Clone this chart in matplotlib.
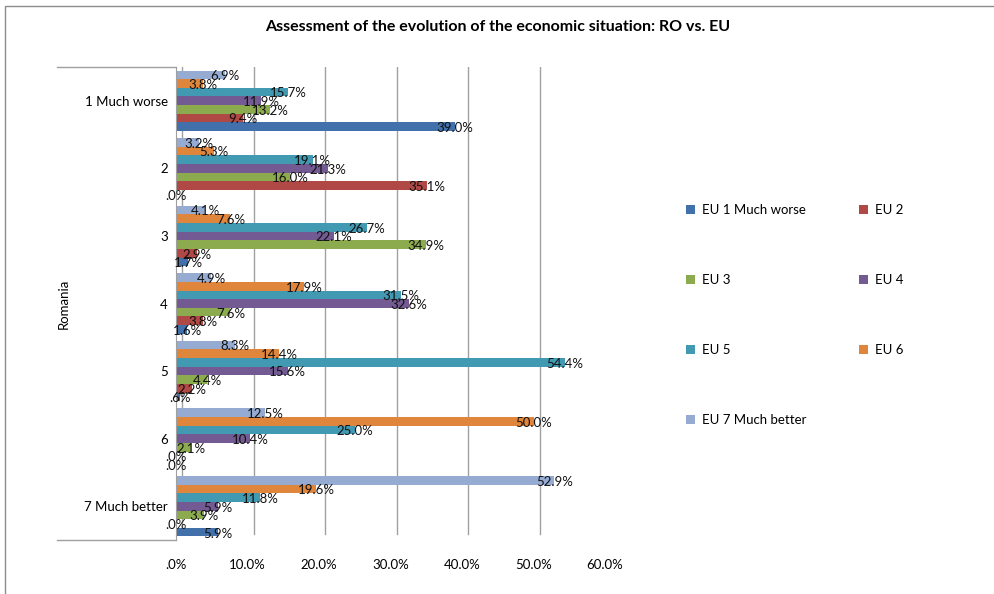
import matplotlib.pyplot as plt
import matplotlib.transforms as mtransforms
from matplotlib.lines import Line2D
from matplotlib.patches import Rectangle, Patch
import numpy as np

plt.rcParams['font.family'] = ['Lato', 'DejaVu Sans']

categories = ["1 Much worse", "2", "3", "4", "5", "6", "7 Much better"]
series_names = ["EU 1 Much worse", "EU 2", "EU 3", "EU 4", "EU 5", "EU 6",
                "EU 7 Much better"]
colors = ["#4170aa", "#b04845", "#8bab4e", "#735a93", "#4299b2", "#e0853c",
          "#95abd2"]

# one list per series, values for categories 1..7 (percent)
eu1 = [39.0, 0.0, 1.7, 1.6, 0.6, 0.0, 5.9]
eu2 = [9.4, 35.1, 2.9, 3.8, 2.2, 0.0, 0.0]
eu3 = [13.2, 16.0, 34.9, 7.6, 4.4, 2.1, 3.9]
eu4 = [11.9, 21.3, 22.1, 32.6, 15.6, 10.4, 5.9]
eu5 = [15.7, 19.1, 26.7, 31.5, 54.4, 25.0, 11.8]
eu6 = [3.8, 5.3, 7.6, 17.9, 14.4, 50.0, 19.6]
eu7 = [6.9, 3.2, 4.1, 4.9, 8.3, 12.5, 52.9]
series = [eu1, eu2, eu3, eu4, eu5, eu6, eu7]

x_ticks = [0, 10, 20, 30, 40, 50, 60]
x_ticklabels = [".0%", "10.0%", "20.0%", "30.0%", "40.0%", "50.0%", "60.0%"]


def pct(v):
    s = "%.1f%%" % v
    return s[1:] if s.startswith("0") else s


fig = plt.figure(figsize=(9.94, 5.94), dpi=100)
ax = fig.add_axes([176 / 994, 54 / 594, 429 / 994, 473 / 594])

y = np.arange(len(categories))
h = 0.128
for j, vals in enumerate(series):
    pos = y + (3 - j) * h
    ax.barh(pos, vals, height=h, color=colors[j], edgecolor='none', zorder=2)
    for p, v in zip(pos, vals):
        ax.text(v, p + 0.02, pct(v), ha='center', va='center', fontsize=9.5,
                color='#111111', zorder=4)

ax.set_xlim(0, 60)
ax.set_ylim(len(categories) - 0.5, -0.5)
ax.set_xticks(x_ticks)
ax.set_xticklabels(x_ticklabels, fontsize=9.5)
ax.set_yticks(y)
ax.set_yticklabels(categories, fontsize=9.5)
ax.tick_params(axis='y', length=0, pad=6)
ax.tick_params(axis='x', length=0, pad=14)

# back-wall gridlines (shifted like the 3D chart)
ax.grid(axis='x', color='#a0a0a0', linewidth=1, zorder=0)
offset = mtransforms.ScaledTranslation(0.06, 0.06, fig.dpi_scale_trans)
for gl in ax.get_xgridlines():
    gl.set_transform(gl.get_transform() + offset)

for s in ['top', 'right', 'bottom']:
    ax.spines[s].set_visible(False)
ax.spines['left'].set_color('#a0a0a0')

# outer category level ("Romania") tick lines, in figure pixels
for ypx in [67, 540]:
    fig.add_artist(Line2D([57 / 994, 176 / 994], [1 - ypx / 594, 1 - ypx / 594],
                          transform=fig.transFigure, color='#a0a0a0',
                          linewidth=1))
ax.set_ylabel("Romania", fontsize=9.5)
ax.yaxis.set_label_coords(-0.247, 0.5)

fig.text(498 / 994, 1 - 27 / 594,
         "Assessment of the evolution of the economic situation: RO vs. EU",
         ha='center', va='center', fontsize=11.5, fontweight='bold')

handles = [Patch(facecolor=c, edgecolor='none') for c in colors]
order = [0, 2, 4, 6, 1, 3, 5]
fig.legend([handles[i] for i in order], [series_names[i] for i in order],
           loc='upper left', bbox_to_anchor=(686 / 994, 1 - 204 / 594),
           ncol=2, frameon=False, fontsize=9.5, handlelength=0.7,
           handleheight=0.7, handletextpad=0.5, labelspacing=4.4,
           columnspacing=4.0, borderpad=0, borderaxespad=0)

fig.add_artist(Rectangle((5 / 994, -0.1), 1.2, 1.1 - 6 / 594,
                         transform=fig.transFigure, fill=False,
                         edgecolor='#8c8c8c', linewidth=1))

fig.savefig("out.png", dpi=100)
